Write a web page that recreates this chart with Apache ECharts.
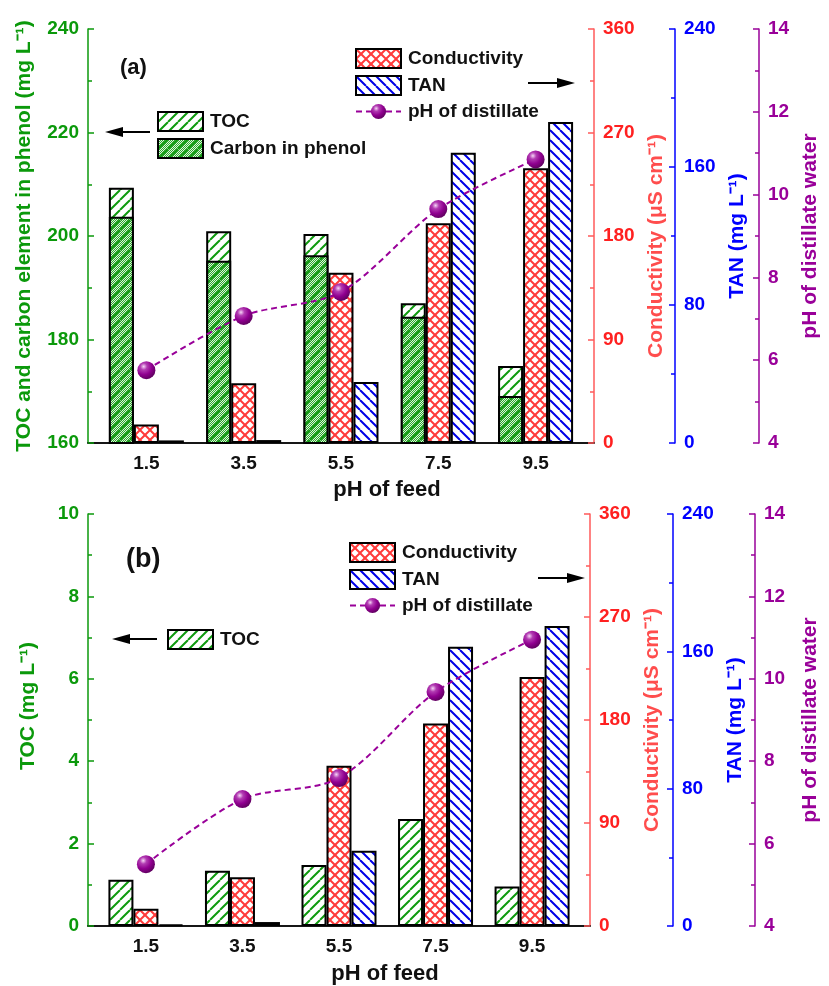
<!DOCTYPE html>
<html>
<head>
<meta charset="utf-8">
<title>TOC, conductivity, TAN and pH vs pH of feed</title>
<script src="https://cdn.jsdelivr.net/npm/echarts@6/dist/echarts.min.js"></script>
<style>
  html, body { margin: 0; padding: 0; background: #fff; }
  #chart { width: 829px; height: 986px; }
</style>
</head>
<body>
<div id="chart"></div>
<script>
// pH of feed (x axis)
const feedPH = [1.5, 3.5, 5.5, 7.5, 9.5];
const xLabels = [1.5, 3.5, 5.5, 7.5, 9.5];

// panel (a)
const tocA = [209.3, 200.9, 200.4, 187.0, 174.9];
const carbonA = [203.7, 195.2, 196.3, 184.4, 169.1];
const condA = [16, 52, 148, 191, 239];
const tanA = [1.5, 1.7, 35.4, 168.3, 186.1];
const phDistA = [5.76, 7.07, 7.65, 9.65, 10.85];

// panel (b)
const tocB = [1.12, 1.34, 1.48, 2.60, 0.96];
const condB = [15, 42.5, 140, 177, 217.5];
const tanB = [1.0, 2.3, 43.8, 162.7, 174.8];
const phDistB = [5.50, 7.08, 7.59, 9.68, 10.95];

const font = "'Liberation Sans', Arial, Helvetica, sans-serif";
const GREEN = '#0b990b';
const RED = '#ff2020';
const RED_LINE = '#ff5a5a';
const BLUE = '#0000ff';
const PURPLE = '#990099';

// hatch patterns drawn on small canvases
function pattern(opts) {
  const s = opts.size || 10;
  const c = document.createElement('canvas');
  c.width = s; c.height = s;
  const g = c.getContext('2d');
  g.fillStyle = opts.bg || '#fff';
  g.fillRect(0, 0, s, s);
  if (opts.dots) {
    g.fillStyle = 'rgba(255,255,255,0.85)';
    for (let y = 0; y < s; y++) {
      for (let x = y % 2; x < s; x += 2) g.fillRect(x, y, 1, 1);
    }
  }
  g.strokeStyle = opts.color;
  g.lineWidth = opts.lw || 2;
  opts.dirs.forEach(function (d) {
    g.beginPath();
    [-s, 0, s].forEach(function (o) {
      if (d === '/') { g.moveTo(o, s); g.lineTo(o + s, 0); }
      else { g.moveTo(o, 0); g.lineTo(o + s, s); }
    });
    g.stroke();
  });
  return { image: c, repeat: 'repeat' };
}

const tocFill = pattern({ dirs: ['/'], color: '#0f9a0f', size: 10 });
const carbonFill = pattern({ dirs: ['/'], color: '#0a960a', bg: '#2caa2c', dots: true, size: 10 });
const condFill = pattern({ dirs: ['/', '\\'], color: '#ff3b3b', size: 10 });
const tanFill = pattern({ dirs: ['\\'], color: '#0000e6', size: 10 });

const sphere = {
  type: 'radial', x: 0.35, y: 0.3, r: 0.75,
  colorStops: [
    { offset: 0, color: '#f6d6f6' },
    { offset: 0.25, color: '#b23cb2' },
    { offset: 0.6, color: '#900090' },
    { offset: 1, color: '#5c005c' }
  ]
};

function pairs(ys) {
  return feedPH.map(function (x, i) { return [x, ys[i]]; });
}

function xAx(grid, top, gap) {
  if (top) {
    return {
      type: 'value', gridIndex: grid, position: 'top', min: 0.3, max: 10.7,
      axisLine: { show: true, lineStyle: { color: '#000', width: 1.5 } },
      axisTick: { show: false }, axisLabel: { show: false }, splitLine: { show: false }
    };
  }
  return {
    type: 'value', gridIndex: grid, position: 'bottom', min: 0.3, max: 10.7,
    name: 'pH of feed', nameLocation: 'middle', nameGap: gap,
    nameTextStyle: { color: '#111', fontSize: 22, fontWeight: 'bold', fontFamily: font, padding: [0, 0, 0, 92] },
    axisLine: { show: true, lineStyle: { color: '#222', width: 1.5 } },
    axisTick: { show: false },
    axisLabel: {
      customValues: xLabels, color: '#111', fontSize: 19, fontWeight: 'bold', fontFamily: font, margin: 11,
      formatter: function (v) { return Number(v).toFixed(1); }
    },
    splitLine: { show: false }
  };
}

function yAx(o) {
  const lc = o.lineColor || o.color;
  return {
    type: 'value', gridIndex: o.grid, position: o.pos, offset: o.offset || 0,
    min: o.min, max: o.max, interval: o.interval,
    name: o.name, nameLocation: 'middle', nameGap: o.gap, nameRotate: 90,
    nameTextStyle: {
      color: o.titleColor || o.color, fontSize: 21, fontWeight: 'bold', fontFamily: font,
      padding: o.pad || 0
    },
    axisLine: { show: true, lineStyle: { color: lc, width: 1.5 } },
    axisTick: { show: true, inside: true, length: 6, lineStyle: { color: lc, width: 1.5 } },
    minorTick: { show: true, splitNumber: 2, length: 4, lineStyle: { color: lc, width: 1.5 } },
    axisLabel: { color: o.color, fontSize: 19, fontWeight: 'bold', fontFamily: font, margin: 9 },
    splitLine: { show: false },
    minorSplitLine: { show: false }
  };
}

function barSeries(name, xi, yi, data, fill) {
  return {
    name: name, type: 'bar', xAxisIndex: xi, yAxisIndex: yi,
    data: data, barWidth: 25, barGap: '0%', clip: true,
    itemStyle: { color: fill, borderColor: '#000', borderWidth: 2 },
    emphasis: { disabled: true }
  };
}

// empty bars that only hold a slot, so the overlay bar lands on the TOC column
function slotHolder(xi, yi) {
  return { type: 'bar', xAxisIndex: xi, yAxisIndex: yi, data: [], barWidth: 25, barGap: '0%', silent: true };
}

function phSeries(xi, yi, ys) {
  return {
    name: 'pH of distillate', type: 'line', xAxisIndex: xi, yAxisIndex: yi,
    data: pairs(ys), smooth: 0.3, z: 5,
    symbol: 'circle', symbolSize: 18,
    lineStyle: { color: PURPLE, width: 2, type: [6, 4] },
    itemStyle: { color: sphere, borderWidth: 0 },
    emphasis: { disabled: true }
  };
}

function legendBox(left, top, items) {
  return {
    left: left, top: top, orient: 'vertical', padding: 0,
    itemWidth: 45, itemHeight: 19, itemGap: 6, selectedMode: false,
    itemStyle: { borderColor: '#000', borderWidth: 2 },
    textStyle: { color: '#111', fontSize: 19, fontWeight: 'bold', fontFamily: font, padding: [0, 0, 0, 2] },
    data: items
  };
}

function arrow(tail, tip, y) {
  const d = Math.sign(tip - tail);
  return [
    { type: 'line', shape: { x1: tail, y1: y, x2: tip - d * 16, y2: y }, style: { stroke: '#000', lineWidth: 2 } },
    { type: 'polygon', shape: { points: [[tip, y], [tip - d * 18, y - 5], [tip - d * 18, y + 5]] }, style: { fill: '#000' } }
  ];
}

const chart = echarts.init(document.getElementById('chart'));

const option = {
  backgroundColor: '#fff',
  animation: false,
  grid: [
    { left: 88, right: 227, top: 29, bottom: 543 },
    { left: 88, right: 227, top: 514, bottom: 57 }
  ],
  xAxis: [xAx(0, false, 36), xAx(0, true), xAx(1, false, 37), xAx(1, true)],
  yAxis: [
    yAx({ grid: 0, pos: 'left', min: 160, max: 240, interval: 20, color: GREEN, gap: 53,
      name: 'TOC and carbon element in phenol (mg L\u207B\u00B9)' }),
    yAx({ grid: 0, pos: 'right', min: 0, max: 360, interval: 90, color: RED, lineColor: RED_LINE, titleColor: '#ff4d4d',
      gap: 46, pad: [0, 20, 0, 0], name: 'Conductivity (\u03BCS cm\u207B\u00B9)' }),
    yAx({ grid: 0, pos: 'right', offset: 81, min: 0, max: 240, interval: 80, color: BLUE, gap: 49,
      name: 'TAN (mg L\u207B\u00B9)' }),
    yAx({ grid: 0, pos: 'right', offset: 165, min: 4, max: 14, interval: 2, color: PURPLE, gap: 41,
      name: 'pH of distillate water' }),
    yAx({ grid: 1, pos: 'left', min: 0, max: 10, interval: 2, color: GREEN, gap: 49, pad: [0, 0, 0, 28],
      name: 'TOC (mg L\u207B\u00B9)' }),
    yAx({ grid: 1, pos: 'right', min: 0, max: 360, interval: 90, color: RED, lineColor: RED_LINE, titleColor: '#ff4d4d',
      gap: 52, name: 'Conductivity (\u03BCS cm\u207B\u00B9)' }),
    yAx({ grid: 1, pos: 'right', offset: 83, min: 0, max: 240, interval: 80, color: BLUE, gap: 47,
      name: 'TAN (mg L\u207B\u00B9)' }),
    yAx({ grid: 1, pos: 'right', offset: 165, min: 4, max: 14, interval: 2, color: PURPLE, gap: 45,
      name: 'pH of distillate water' })
  ],
  legend: [
    legendBox(157, 111, [{ name: 'TOC', icon: 'rect' }, { name: 'Carbon in phenol', icon: 'rect' }]),
    legendBox(355, 48, [
      { name: 'Conductivity', icon: 'rect' }, { name: 'TAN', icon: 'rect' },
      { name: 'pH of distillate', itemStyle: { borderWidth: 0 } }
    ]),
    legendBox(167, 629, [{ name: 'TOC', icon: 'rect' }]),
    legendBox(349, 542, [
      { name: 'Conductivity', icon: 'rect' }, { name: 'TAN', icon: 'rect' },
      { name: 'pH of distillate', itemStyle: { borderWidth: 0 } }
    ])
  ],
  graphic: [].concat(
    arrow(150, 105, 132), arrow(528, 575, 83),
    arrow(157, 112, 639), arrow(538, 585, 578),
    [
      { type: 'text', left: 120, top: 57, style: { text: '(a)', fill: '#111', font: 'bold 22px ' + font } },
      { type: 'text', left: 126, top: 546, style: { text: '(b)', fill: '#111', font: 'bold 27px ' + font } }
    ]
  ),
  series: [
    // (a) : TOC full height, carbon in phenol laid over it on the hidden top axis
    barSeries('TOC', 0, 0, pairs(tocA), tocFill),
    barSeries('Conductivity', 0, 1, pairs(condA), condFill),
    barSeries('TAN', 0, 2, pairs(tanA), tanFill),
    barSeries('Carbon in phenol', 1, 0, pairs(carbonA), carbonFill),
    slotHolder(1, 0),
    slotHolder(1, 0),
    phSeries(0, 3, phDistA),
    // (b)
    barSeries('TOC', 2, 4, pairs(tocB), tocFill),
    barSeries('Conductivity', 2, 5, pairs(condB), condFill),
    barSeries('TAN', 2, 6, pairs(tanB), tanFill),
    phSeries(2, 7, phDistB)
  ]
};

chart.setOption(option);
</script>
</body>
</html>
